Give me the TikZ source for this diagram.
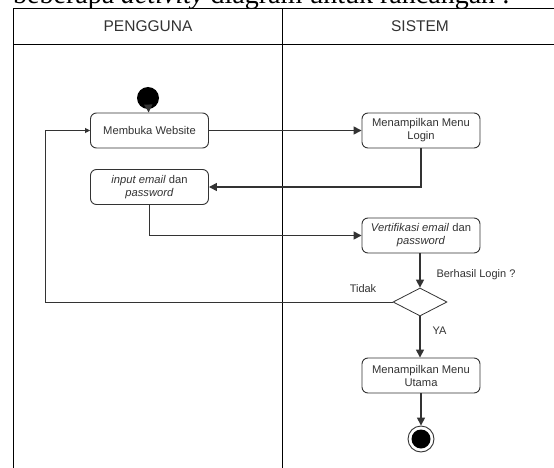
\documentclass[tikz,border=0pt]{standalone}
\usepackage{fontspec}
\setmainfont{Liberation Sans}
\newfontfamily\seriffont{Liberation Serif}
\usetikzlibrary{shapes.geometric,arrows.meta}
\definecolor{ln}{HTML}{333333}
\begin{document}
\begin{tikzpicture}[x=1pt,y=-1pt,
  lane/.style={draw=black,line width=0.8pt},
  act/.style={draw=ln,rounded corners=6pt,line width=0.9pt,minimum width=118pt,minimum height=35pt,align=center,font=\fontsize{11.2}{13}\selectfont,text=ln,inner sep=0pt},
  hdr/.style={font=\fontsize{15.5}{18}\selectfont,text=ln},
  lbl/.style={font=\fontsize{11}{13}\selectfont,text=ln},
  flow/.style={draw=ln,line width=1.5pt,-{Triangle[length=8pt,width=8pt]}},
  back/.style={draw=ln,line width=0.8pt,-{Triangle[length=5pt,width=5pt]}},
]
\path[use as bounding box] (0,0) rectangle (554,468);
\clip (0,0) rectangle (554,468);
\fill[white] (0,0) rectangle (554,468);
% cut-off heading text
\node[anchor=base west,inner sep=0pt,font=\seriffont\fontsize{28}{30}\selectfont] (head) at (13,3.5) {beberapa \textit{activity} diagram untuk rancangan :};
% swimlanes
\draw[lane] (13,470) -- (13,8.3) -- (560,8.3);
\draw[lane] (13,44) -- (560,44);
\draw[lane] (282.5,8.3) -- (282.5,470);
\node[hdr] (h1) at (148,26) {PENGGUNA};
\node[hdr] (h2) at (420,26) {SISTEM};
% nodes
\node[circle,fill=black,minimum size=22pt,inner sep=0pt] (start) at (148,98) {};
\node[act] (mw) at (149.5,130.5) {Membuka Website};
\node[act] (ml) at (421,130.5) {Menampilkan Menu\\Login};
\node[act] (inp) at (149.5,187) {\textit{input email} dan\\\textit{password}};
\node[act] (ver) at (421,235.5) {\textit{Vertifikasi email} dan\\\textit{password}};
\node[diamond,draw=ln,line width=0.8pt,minimum width=54pt,minimum height=28pt,inner sep=0pt] (dia) at (420,302) {};
\node[act] (ut) at (421,375.5) {Menampilkan Menu\\Utama};
\node[circle,draw=ln,line width=0.9pt,minimum size=26pt,inner sep=0pt] (end) at (421,439) {};
\node[circle,fill=black,minimum size=19pt,inner sep=0pt] (endin) at (end.center) {};
% connectors
\draw[flow] (start) -- (mw);
\draw[flow] (mw) -- (ml);
\draw[flow] (ml.south) |- (inp.east);
\draw[flow] (inp.south) |- (ver.west);
\draw[flow] (ver.south -| dia.north) -- (dia.north);
\draw[flow] (dia.south) -- (ut.north -| dia.south);
\draw[flow] (ut.south -| end.north) -- (end.north);
\draw[back] (dia.west) -- ++(-347.5,0) |- (mw.west);
% labels
\node[lbl,anchor=west] (l1) at (433,275) {Berhasil Login ?};
\node[lbl] (l2) at (363,289) {Tidak};
\node[lbl,anchor=west] (l3) at (429,331) {YA};
\end{tikzpicture}
\end{document}
